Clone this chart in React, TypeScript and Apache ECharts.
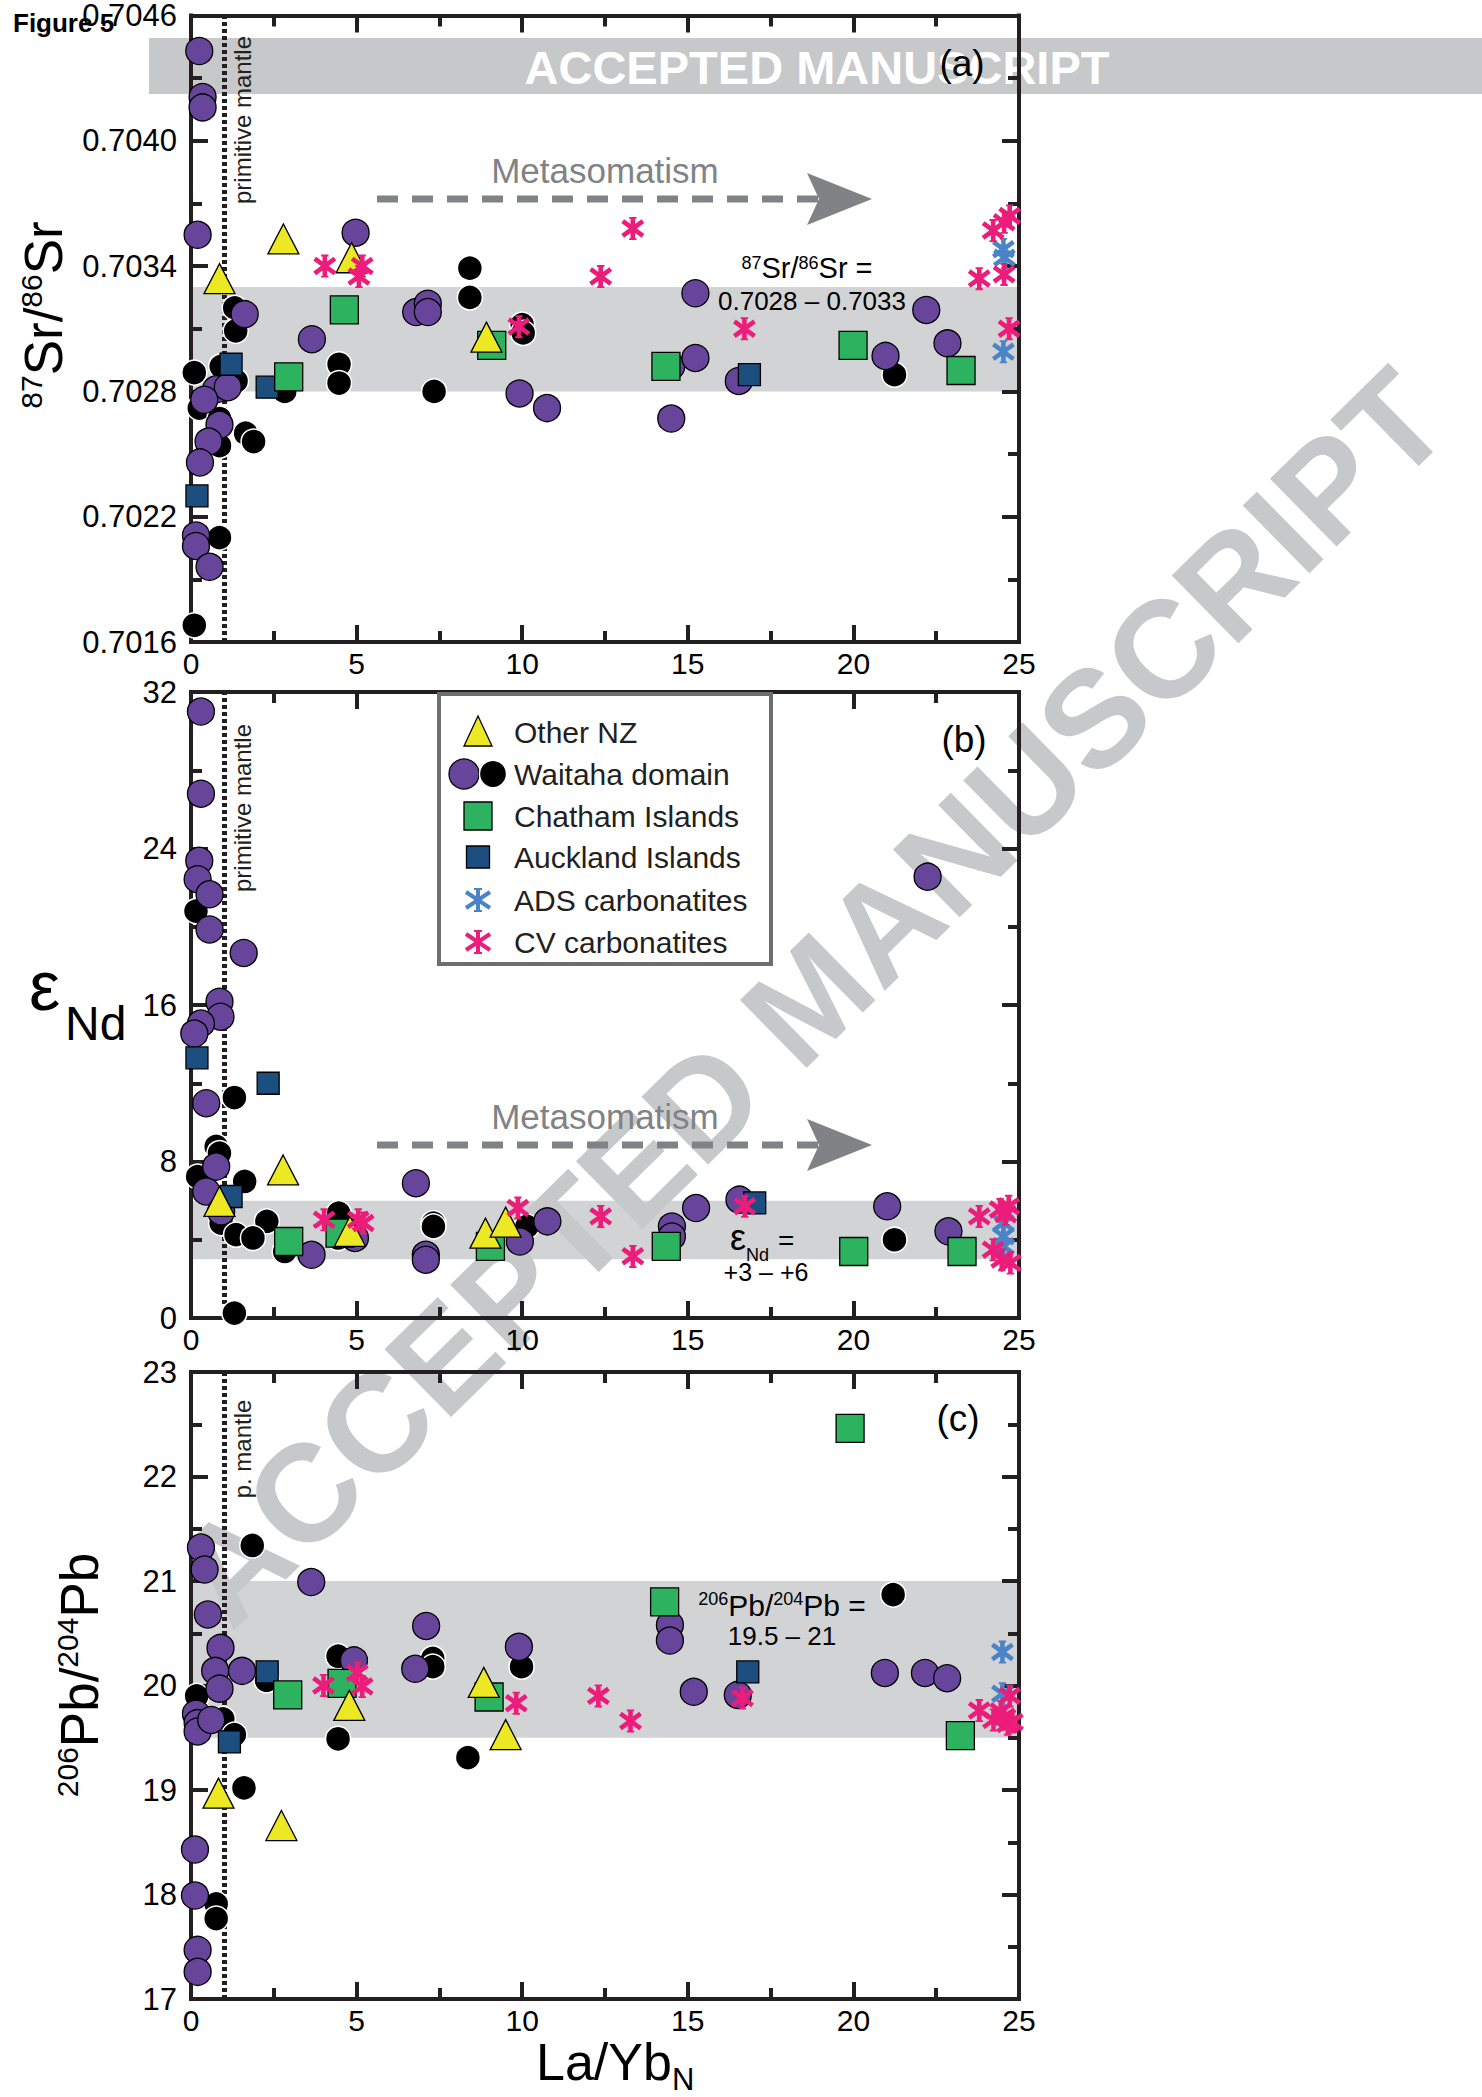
import React, { useEffect, useRef } from 'react';
import * as echarts from 'echarts';

const FONT = '"Liberation Sans", Arial, Helvetica, sans-serif';
const INK = '#231f20';
const BAND_GREY = '#d1d3d4';
const WATERMARK_GREY = '#c7c8ca';
const ARROW_GREY = '#808285';

// ---- axis ticks ----
const LAYB_TICKS = [0, 5, 10, 15, 20, 25];
const SR_TICKS = [0.7016, 0.7022, 0.7028, 0.7034, 0.704, 0.7046];
const ND_TICKS = [0, 8, 16, 24, 32];
const PB_TICKS = [17, 18, 19, 20, 21, 22, 23];

// ---- reference ranges ----
const SR_RANGE = [0.7028, 0.7033];
const ND_RANGE = [3, 6];
const PB_RANGE = [19.5, 21];
const PRIMITIVE_MANTLE = 1;

type Pt = [number, number];

// ---- (a) 87Sr/86Sr vs La/YbN ----
const SR_OTHER_NZ: Pt[] = [[0.86, 0.70334], [2.79, 0.70353], [4.85, 0.70344], [8.92, 0.70306]];
const SR_WAITAHA_PURPLE: Pt[] = [
  [0.25, 0.70443], [0.35, 0.70421], [0.35, 0.70416], [0.2, 0.70355], [4.97, 0.70356], [6.8, 0.70318],
  [7.15, 0.70322], [7.15, 0.70318], [3.65, 0.70305], [1.62, 0.70317], [0.76, 0.70281], [1.11, 0.70282],
  [0.4, 0.70276], [0.86, 0.70264], [0.53, 0.70256], [0.27, 0.70246], [0.15, 0.70211], [0.15, 0.70206],
  [0.56, 0.70196], [9.92, 0.70279], [10.75, 0.70272], [14.5, 0.70292], [14.5, 0.70267], [15.23, 0.70327],
  [15.23, 0.70296], [16.54, 0.70285], [20.97, 0.70297], [22.2, 0.70319], [22.84, 0.70303],
];
const SR_WAITAHA_BLACK: Pt[] = [
  [8.42, 0.70339], [8.42, 0.70325], [1.32, 0.7032], [1.35, 0.70309], [4.47, 0.70293], [4.47, 0.70284],
  [7.34, 0.7028], [2.83, 0.7028], [0.91, 0.70292], [0.1, 0.70289], [1.36, 0.70285], [0.25, 0.70272],
  [0.86, 0.70267], [0.86, 0.70254], [1.65, 0.7026], [1.89, 0.70256], [0.86, 0.7021], [0.1, 0.70168],
  [10.0, 0.70312], [10.03, 0.70308], [21.24, 0.70288],
];
const SR_CHATHAM: Pt[] = [[4.63, 0.70319], [9.08, 0.70302], [2.95, 0.70287], [14.34, 0.70292], [19.99, 0.70302], [23.25, 0.7029]];
const SR_AUCKLAND: Pt[] = [[1.21, 0.70293], [2.3, 0.70282], [0.18, 0.7023], [16.86, 0.70288]];
const SR_ADS: Pt[] = [[24.53, 0.70348], [24.56, 0.70344], [24.53, 0.70299]];
const SR_CV: Pt[] = [
  [4.04, 0.7034], [5.17, 0.7034], [5.07, 0.70335], [13.34, 0.70358], [12.37, 0.70335], [9.9, 0.70311],
  [16.71, 0.7031], [24.22, 0.70357], [24.55, 0.70361], [24.72, 0.70364], [23.8, 0.70334], [24.55, 0.70336],
  [24.7, 0.7031],
];

// ---- (b) eNd vs La/YbN ----
const ND_OTHER_NZ: Pt[] = [[0.86, 5.96], [2.78, 7.57], [4.8, 4.43], [8.89, 4.34], [9.5, 4.9]];
const ND_WAITAHA_PURPLE: Pt[] = [
  [0.3, 31.0], [0.3, 26.8], [0.25, 23.37], [0.2, 22.43], [0.56, 21.66], [0.56, 19.86], [1.59, 18.66],
  [0.86, 16.17], [0.89, 15.4], [0.3, 15.05], [0.1, 14.54], [0.46, 10.98], [0.76, 7.74], [0.46, 6.47],
  [0.91, 5.45], [3.64, 3.23], [4.95, 4.09], [6.79, 6.89], [7.09, 3.23], [7.09, 2.98], [9.93, 3.91],
  [10.76, 4.94], [14.52, 4.68], [14.52, 4.17], [15.25, 5.62], [16.56, 6.05], [21.02, 5.71], [22.24, 22.56],
  [22.87, 4.43],
];
const ND_WAITAHA_BLACK: Pt[] = [
  [0.15, 20.8], [1.31, 11.27], [0.76, 8.77], [0.86, 8.43], [0.2, 7.23], [1.62, 6.98], [0.91, 5.02],
  [0.91, 4.85], [2.29, 4.94], [1.36, 4.26], [1.87, 4.09], [2.83, 3.4], [4.46, 5.36], [4.44, 4.09],
  [7.32, 4.85], [7.32, 4.68], [1.31, 0.25], [10.14, 4.68], [21.24, 4.0],
];
const ND_CHATHAM: Pt[] = [[2.95, 3.91], [4.5, 4.34], [9.04, 3.66], [14.35, 3.66], [20.01, 3.4], [23.28, 3.4]];
const ND_AUCKLAND: Pt[] = [[0.18, 13.3], [2.33, 12.0], [1.21, 6.21], [17.02, 5.88]];
const ND_ADS: Pt[] = [[24.53, 4.85], [24.53, 4.17], [24.53, 3.66]];
const ND_CV: Pt[] = [
  [4.02, 5.02], [5.05, 5.02], [5.2, 4.85], [9.87, 5.62], [12.37, 5.19], [13.34, 3.15], [16.72, 5.71],
  [23.8, 5.19], [24.43, 5.54], [24.69, 5.71], [24.6, 5.3], [24.22, 3.49], [24.48, 2.98], [24.74, 2.81],
];

// ---- (c) 206Pb/204Pb vs La/YbN ----
const PB_OTHER_NZ: Pt[] = [[8.84, 20.03], [4.78, 19.81], [9.5, 19.53], [0.83, 18.97], [2.73, 18.66]];
const PB_WAITAHA_PURPLE: Pt[] = [
  [0.3, 21.32], [0.41, 21.11], [3.63, 20.99], [0.51, 20.68], [7.1, 20.57], [0.89, 20.36], [0.73, 20.14],
  [1.54, 20.14], [0.86, 19.97], [4.92, 20.24], [6.77, 20.16], [9.9, 20.37], [0.15, 19.73], [0.2, 19.64],
  [0.2, 19.56], [0.61, 19.67], [0.12, 18.43], [0.12, 17.99], [0.2, 17.47], [0.2, 17.26], [14.46, 20.58],
  [14.46, 20.43], [15.18, 19.94], [16.51, 19.91], [20.95, 20.12], [22.16, 20.12], [22.83, 20.07],
];
const PB_WAITAHA_BLACK: Pt[] = [
  [1.85, 21.34], [2.28, 20.05], [4.44, 20.28], [7.3, 20.26], [7.3, 20.18], [9.98, 20.18], [0.17, 19.9],
  [0.96, 19.68], [1.31, 19.53], [1.6, 19.02], [0.76, 17.91], [0.76, 17.77], [4.44, 19.49], [8.36, 19.31],
  [21.2, 20.87],
];
const PB_CHATHAM: Pt[] = [[2.92, 19.91], [4.56, 20.02], [9.0, 19.89], [14.3, 20.8], [19.9, 22.46], [23.23, 19.52]];
const PB_AUCKLAND: Pt[] = [[2.3, 20.13], [1.16, 19.46], [16.81, 20.13]];
const PB_ADS: Pt[] = [[24.5, 20.32], [24.5, 19.92]];
const PB_CV: Pt[] = [
  [4.0, 20.0], [5.02, 20.12], [5.17, 19.99], [9.82, 19.83], [12.3, 19.9], [13.27, 19.66], [16.65, 19.88],
  [23.8, 19.76], [24.23, 19.67], [24.56, 19.7], [24.66, 19.63], [24.8, 19.65], [24.72, 19.9], [24.45, 19.75],
];

// ---- symbols ----
const ASTERISK =
  'path://M40 0L60 0L60 100L40 100Z' +
  'M12.1 9.6L100 73.5L88.2 89.7L0.3 25.8Z' +
  'M99.7 25.8L11.8 89.7L0 73.5L87.9 9.6Z' +
  'M34 0L66 0L66 8L34 8Z M34 92L66 92L66 100L34 100Z';

const GROUPS = [
  { key: 'black', name: 'Waitaha domain (black)', symbol: 'circle', size: 25, fill: '#000000', stroke: '#ffffff', bw: 1.5 },
  { key: 'purple', name: 'Waitaha domain', symbol: 'circle', size: 27, fill: '#66459b', stroke: '#000000', bw: 1.3 },
  { key: 'auck', name: 'Auckland Islands', symbol: 'rect', size: 22, fill: '#1c4f80', stroke: '#000000', bw: 1.3 },
  { key: 'chat', name: 'Chatham Islands', symbol: 'rect', size: 28, fill: '#2db35f', stroke: '#000000', bw: 1.3 },
  { key: 'other', name: 'Other NZ', symbol: 'triangle', size: [31, 30], fill: '#ece823', stroke: '#000000', bw: 1.3 },
  { key: 'ads', name: 'ADS carbonatites', symbol: ASTERISK, size: 23, fill: '#4a84c6', stroke: 'none', bw: 0 },
  { key: 'cv', name: 'CV carbonatites', symbol: ASTERISK, size: 23, fill: '#ec1c7a', stroke: 'none', bw: 0 },
];

const srT = (v: number) => Math.round((v - SR_TICKS[0]) * 1e4 * 1000) / 1000;
const ident = (v: number) => v;

const PANELS = [
  {
    ticks: SR_TICKS.map(srT), fy: srT, band: SR_RANGE,
    fmt: (v: number) => (SR_TICKS[0] + v / 1e4).toFixed(4),
    data: { black: SR_WAITAHA_BLACK, purple: SR_WAITAHA_PURPLE, auck: SR_AUCKLAND, chat: SR_CHATHAM, other: SR_OTHER_NZ, ads: SR_ADS, cv: SR_CV } as Record<string, Pt[]>,
  },
  {
    ticks: ND_TICKS, fy: ident, band: ND_RANGE, fmt: (v: number) => String(v),
    data: { black: ND_WAITAHA_BLACK, purple: ND_WAITAHA_PURPLE, auck: ND_AUCKLAND, chat: ND_CHATHAM, other: ND_OTHER_NZ, ads: ND_ADS, cv: ND_CV } as Record<string, Pt[]>,
  },
  {
    ticks: PB_TICKS, fy: ident, band: PB_RANGE, fmt: (v: number) => String(v),
    data: { black: PB_WAITAHA_BLACK, purple: PB_WAITAHA_PURPLE, auck: PB_AUCKLAND, chat: PB_CHATHAM, other: PB_OTHER_NZ, ads: PB_ADS, cv: PB_CV } as Record<string, Pt[]>,
  },
];

const GRIDS = [
  { left: 191, top: 15, width: 828, height: 627 },
  { left: 191, top: 692, width: 828, height: 626 },
  { left: 191, top: 1372, width: 828, height: 627 },
];

const axisCommon = {
  type: 'value',
  z: 3,
  axisLine: { show: true, onZero: false, lineStyle: { color: INK, width: 4, cap: 'square' } },
  axisTick: { show: true, inside: true, length: 17, lineStyle: { color: INK, width: 4 } },
  minorTick: { show: true, splitNumber: 2, length: 11, lineStyle: { color: INK, width: 4 } },
  splitLine: { show: false },
  minorSplitLine: { show: false },
};

function buildOption() {
  const xAxis: any[] = [];
  const yAxis: any[] = [];
  const series: any[] = [];
  PANELS.forEach((p, i) => {
    const xr = { min: LAYB_TICKS[0], max: LAYB_TICKS[LAYB_TICKS.length - 1], interval: LAYB_TICKS[1] - LAYB_TICKS[0] };
    xAxis.push({
      ...axisCommon, ...xr, gridIndex: i, position: 'bottom',
      axisLabel: { show: true, fontSize: 30, color: '#000', fontFamily: FONT, margin: 6, showMinLabel: true, showMaxLabel: true },
    });
    xAxis.push({ ...axisCommon, ...xr, gridIndex: i, position: 'top', axisLabel: { show: false } });
    const yr = { min: p.ticks[0], max: p.ticks[p.ticks.length - 1], interval: p.ticks[1] - p.ticks[0] };
    yAxis.push({
      ...axisCommon, ...yr, gridIndex: i, position: 'left',
      axisLabel: { show: true, fontSize: 31, color: '#000', fontFamily: FONT, margin: 14, formatter: p.fmt, showMinLabel: true, showMaxLabel: true },
    });
    yAxis.push({ ...axisCommon, ...yr, gridIndex: i, position: 'right', axisLabel: { show: false } });

    // reference band + primitive mantle line
    series.push({
      type: 'line', name: 'ref' + i, xAxisIndex: i * 2, yAxisIndex: i * 2, data: [], silent: true,
      markArea: {
        silent: true, z: 1,
        itemStyle: { color: BAND_GREY, opacity: 1 },
        data: [[{ yAxis: p.fy(p.band[0]) }, { yAxis: p.fy(p.band[1]) }]],
      },
      markLine: {
        silent: true, z: 3, symbol: ['none', 'none'], label: { show: false },
        lineStyle: { type: [4, 3], width: 5, color: INK },
        data: [{ xAxis: PRIMITIVE_MANTLE }],
      },
    });

    GROUPS.forEach((g) => {
      series.push({
        type: 'scatter', name: g.name, xAxisIndex: i * 2, yAxisIndex: i * 2, z: 4,
        symbol: g.symbol, symbolSize: g.size,
        itemStyle: { color: g.fill, borderColor: g.stroke, borderWidth: g.bw, opacity: 1 },
        data: p.data[g.key].map(([x, y]) => [x, p.fy(y)]),
      });
    });
  });

  const txt = (x: number, y: number, text: string, size: number, extra: any = {}, el: any = {}) => ({
    type: 'text', x, y, z: 5, silent: true, ...el,
    style: { text, fontSize: size, fontFamily: FONT, fill: '#000', align: 'center', verticalAlign: 'middle', ...extra },
  });

  const supRich = (big: number, sup: number) => ({
    b: { fontSize: big, fontFamily: FONT, fill: '#000', lineHeight: big },
    s: { fontSize: sup, fontFamily: FONT, fill: '#000', lineHeight: sup, verticalAlign: 'top' },
  });

  const aster = (cx: number, cy: number, color: string) => ({
    type: 'group', z: 7,
    children: [
      { type: 'line', z: 7, shape: { x1: cx, y1: cy - 12, x2: cx, y2: cy + 12 }, style: { stroke: color, lineWidth: 4 } },
      { type: 'line', z: 7, shape: { x1: cx - 12, y1: cy - 8, x2: cx + 12, y2: cy + 8 }, style: { stroke: color, lineWidth: 4 } },
      { type: 'line', z: 7, shape: { x1: cx + 12, y1: cy - 8, x2: cx - 12, y2: cy + 8 }, style: { stroke: color, lineWidth: 4 } },
      { type: 'line', z: 7, shape: { x1: cx - 4, y1: cy - 11, x2: cx + 4, y2: cy - 11 }, style: { stroke: color, lineWidth: 2 } },
      { type: 'line', z: 7, shape: { x1: cx - 4, y1: cy + 11, x2: cx + 4, y2: cy + 11 }, style: { stroke: color, lineWidth: 2 } },
    ],
  });

  const arrow = (y: number) => [
    { type: 'line', z: 5, silent: true, shape: { x1: 377, y1: y, x2: 818, y2: y }, style: { stroke: ARROW_GREY, lineWidth: 7, lineDash: [21, 14] } },
    { type: 'polygon', z: 5, silent: true, shape: { points: [[807, y - 26], [872, y], [807, y + 26], [819, y]] }, style: { fill: ARROW_GREY } },
  ];

  const LEG_ROWS = [732, 774, 816, 857, 900, 942];
  const LEG_TEXT = ['Other NZ', 'Waitaha domain', 'Chatham Islands', 'Auckland Islands', 'ADS carbonatites', 'CV carbonatites'];

  const graphic: any[] = [
    // watermark banner
    { type: 'rect', z: 2, silent: true, shape: { x: 149, y: 38, width: 1333, height: 56 }, style: { fill: WATERMARK_GREY } },
    { type: 'text', z: 2, silent: true, x: 817, y: 67, style: { text: 'ACCEPTED MANUSCRIPT', fill: '#ffffff', fontSize: 47, fontWeight: 'bold', fontFamily: FONT, align: 'center', verticalAlign: 'middle' } },
    // diagonal watermark
    { type: 'text', z: 2, silent: true, x: 810, y: 997, rotation: (44.5 * Math.PI) / 180, style: { text: 'ACCEPTED MANUSCRIPT', fill: WATERMARK_GREY, fontSize: 138, fontWeight: 'bold', fontFamily: FONT, align: 'center', verticalAlign: 'middle' } },
    // figure label
    txt(13, 23, 'Figure 5', 26, { align: 'left', fontWeight: 'bold' }),
    // axis titles
    { type: 'text', z: 5, silent: true, x: 43, y: 315, rotation: Math.PI / 2, style: { text: '{s|87}{b|Sr/}{s|86}{b|Sr}', rich: supRich(53, 30), align: 'center', verticalAlign: 'middle' } },
    txt(29, 986, 'ε', 70, { align: 'left' }),
    txt(65, 1023, 'Nd', 48, { align: 'left' }),
    { type: 'text', z: 5, silent: true, x: 79, y: 1675, rotation: Math.PI / 2, style: { text: '{s|206}{b|Pb/}{s|204}{b|Pb}', rich: supRich(53, 30), align: 'center', verticalAlign: 'middle' } },
    txt(536, 2062, 'La/Yb', 52, { align: 'left' }),
    txt(672, 2079, 'N', 31, { align: 'left' }),
    // panel letters
    txt(962, 63, '(a)', 37),
    txt(964, 739, '(b)', 37),
    txt(958, 1418, '(c)', 37),
    // primitive mantle labels
    txt(242, 120, 'primitive mantle', 24, { fill: INK }, { rotation: Math.PI / 2 }),
    txt(242, 808, 'primitive mantle', 24, { fill: INK }, { rotation: Math.PI / 2 }),
    txt(242, 1449, 'p. mantle', 24, { fill: INK }, { rotation: Math.PI / 2 }),
    // metasomatism
    txt(605, 170, 'Metasomatism', 35, { fill: ARROW_GREY }),
    ...arrow(199),
    txt(605, 1116, 'Metasomatism', 35, { fill: ARROW_GREY }),
    ...arrow(1145),
    // band annotations
    { type: 'text', z: 5, silent: true, x: 807, y: 268, style: { text: '{s|87}{b|Sr/}{s|86}{b|Sr =}', rich: supRich(29, 18), align: 'center', verticalAlign: 'middle' } },
    txt(812, 301, '0.7028 – 0.7033', 26),
    txt(730, 1237, 'ε', 36, { align: 'left' }),
    txt(746, 1255, 'Nd', 18, { align: 'left' }),
    txt(778, 1240, '=', 28, { align: 'left' }),
    txt(766, 1272, '+3 – +6', 25),
    { type: 'text', z: 5, silent: true, x: 782, y: 1605, style: { text: '{s|206}{b|Pb/}{s|204}{b|Pb =}', rich: supRich(30, 18), align: 'center', verticalAlign: 'middle' } },
    txt(782, 1636, '19.5 – 21', 26),
    // legend box
    { type: 'rect', z: 6, silent: true, shape: { x: 439, y: 694, width: 332, height: 270 }, style: { fill: '#ffffff', stroke: '#6d6e71', lineWidth: 4 } },
    { type: 'polygon', z: 7, silent: true, shape: { points: [[478, 716], [464, 746], [492, 746]] }, style: { fill: '#ece823', stroke: '#000', lineWidth: 1.3 } },
    { type: 'circle', z: 7, silent: true, shape: { cx: 464, cy: 774, r: 15 }, style: { fill: '#66459b', stroke: '#000', lineWidth: 1.3 } },
    { type: 'circle', z: 7, silent: true, shape: { cx: 493, cy: 774, r: 13.5 }, style: { fill: '#000', stroke: '#fff', lineWidth: 1.3 } },
    { type: 'rect', z: 7, silent: true, shape: { x: 464, y: 802, width: 28, height: 28 }, style: { fill: '#2db35f', stroke: '#000', lineWidth: 1.3 } },
    { type: 'rect', z: 7, silent: true, shape: { x: 466.5, y: 846, width: 23, height: 22 }, style: { fill: '#1c4f80', stroke: '#000', lineWidth: 1.3 } },
    aster(478, 900, '#4a84c6'),
    aster(478, 942, '#ec1c7a'),
    ...LEG_TEXT.map((t, k) => ({ ...txt(514, LEG_ROWS[k], t, 30, { align: 'left', fill: INK }), z: 7 })),
  ];

  return {
    animation: false,
    backgroundColor: '#ffffff',
    grid: GRIDS.map((g) => ({ ...g, containLabel: false })),
    xAxis,
    yAxis,
    series,
    graphic,
  };
}

export default function App() {
  const ref = useRef<HTMLDivElement>(null);
  useEffect(() => {
    const chart = echarts.init(ref.current!, null, { renderer: 'svg' });
    chart.setOption(buildOption() as any);
    return () => chart.dispose();
  }, []);
  return (
    <div
      ref={ref}
      style={{ position: 'absolute', left: 0, top: 0, width: 1482, height: 2097, background: '#fff' }}
    />
  );
}
